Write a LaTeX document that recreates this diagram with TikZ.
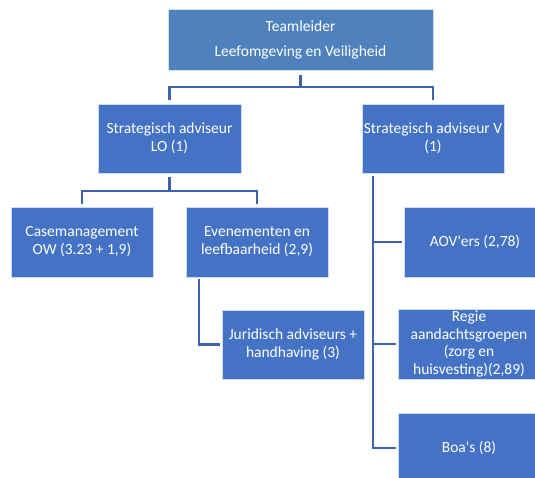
\documentclass[tikz,border=0pt]{standalone}
\usepackage{fontspec}
\setmainfont{Carlito}
\usepackage{tikz}
\definecolor{leadblue}{HTML}{4F81BD}
\definecolor{boxblue}{HTML}{4472C4}
\definecolor{lineblue}{HTML}{3C63AC}

\begin{document}
\begin{tikzpicture}[x=1pt,y=-1pt,
		box/.style={draw=white!75!boxblue,line width=.5pt,fill=boxblue,text=white,align=center,
			minimum width=142pt,minimum height=70pt,inner sep=0pt,
			font=\fontsize{15.5}{18}\selectfont},
		leadbox/.style={box,fill=leadblue,draw=white!75!leadblue,minimum width=265pt,minimum height=61pt},
		conn/.style={draw=lineblue,line width=2.2pt}]
		\useasboundingbox (0,0) rectangle (535,477);
		
		\node[leadbox] (lead) at (300.5,39.5) {Teamleider\\[7pt]Leefomgeving en Veiligheid};
		\node[box,minimum width=143pt,minimum height=69pt] (lo) at (169.5,138.5) {Strategisch adviseur\\LO (1)};
		\node[box,minimum height=69pt] (v) at (433,138.5) {Strategisch adviseur V\\(1)};
		
		\node[box] (cm) at (82,242) {Casemanagement\\OW (3.23 + 1,9)};
		\node[box] (ev) at (257,242) {Evenementen en\\leefbaarheid (2,9)};
		\node[box,minimum height=69pt] (jur) at (293,344.5) {Juridisch adviseurs +\\handhaving (3)};
		
		\node[box] (aov) at (475,242) {AOV\textquotesingle ers (2,78)};
		\node[box,font=\fontsize{15.5}{17.5}\selectfont] (regie) at (469,344) {Regie\\aandachtsgroepen\\(zorg en\\huisvesting)(2,89)};
		\node[box] (boa) at (469,448) {Boa\textquotesingle s (8)};
		
		% teamleider
		\draw[conn] ([yshift=-5pt]lead.south) -- ++(0,12) -| ([yshift=4pt]lo.north);
		\draw[conn] ([yshift=-5pt]lead.south) -- ++(0,12) -| ([yshift=4pt]v.north);
		% LO
		\draw[conn] ([yshift=-4pt]lo.south) -- ++(0,14) -| ([yshift=3pt]cm.north);
		\draw[conn] ([yshift=-4pt]lo.south) -- ++(0,14) -| ([yshift=3pt]ev.north);
		\draw[conn] ([shift={(13pt,-2pt)}]ev.south west) |- ([xshift=-2pt]jur.west);
		% V
		\coordinate (vtop) at ([shift={(11pt,-3pt)}]v.south west);
		\draw[conn] (vtop) |- ([xshift=-2pt]boa.west);
		\draw[conn] (vtop |- aov.west) -- ([xshift=-2pt]aov.west);
		\draw[conn] (vtop |- regie.west) -- ([xshift=-2pt]regie.west);
	\end{tikzpicture}
\end{document}
